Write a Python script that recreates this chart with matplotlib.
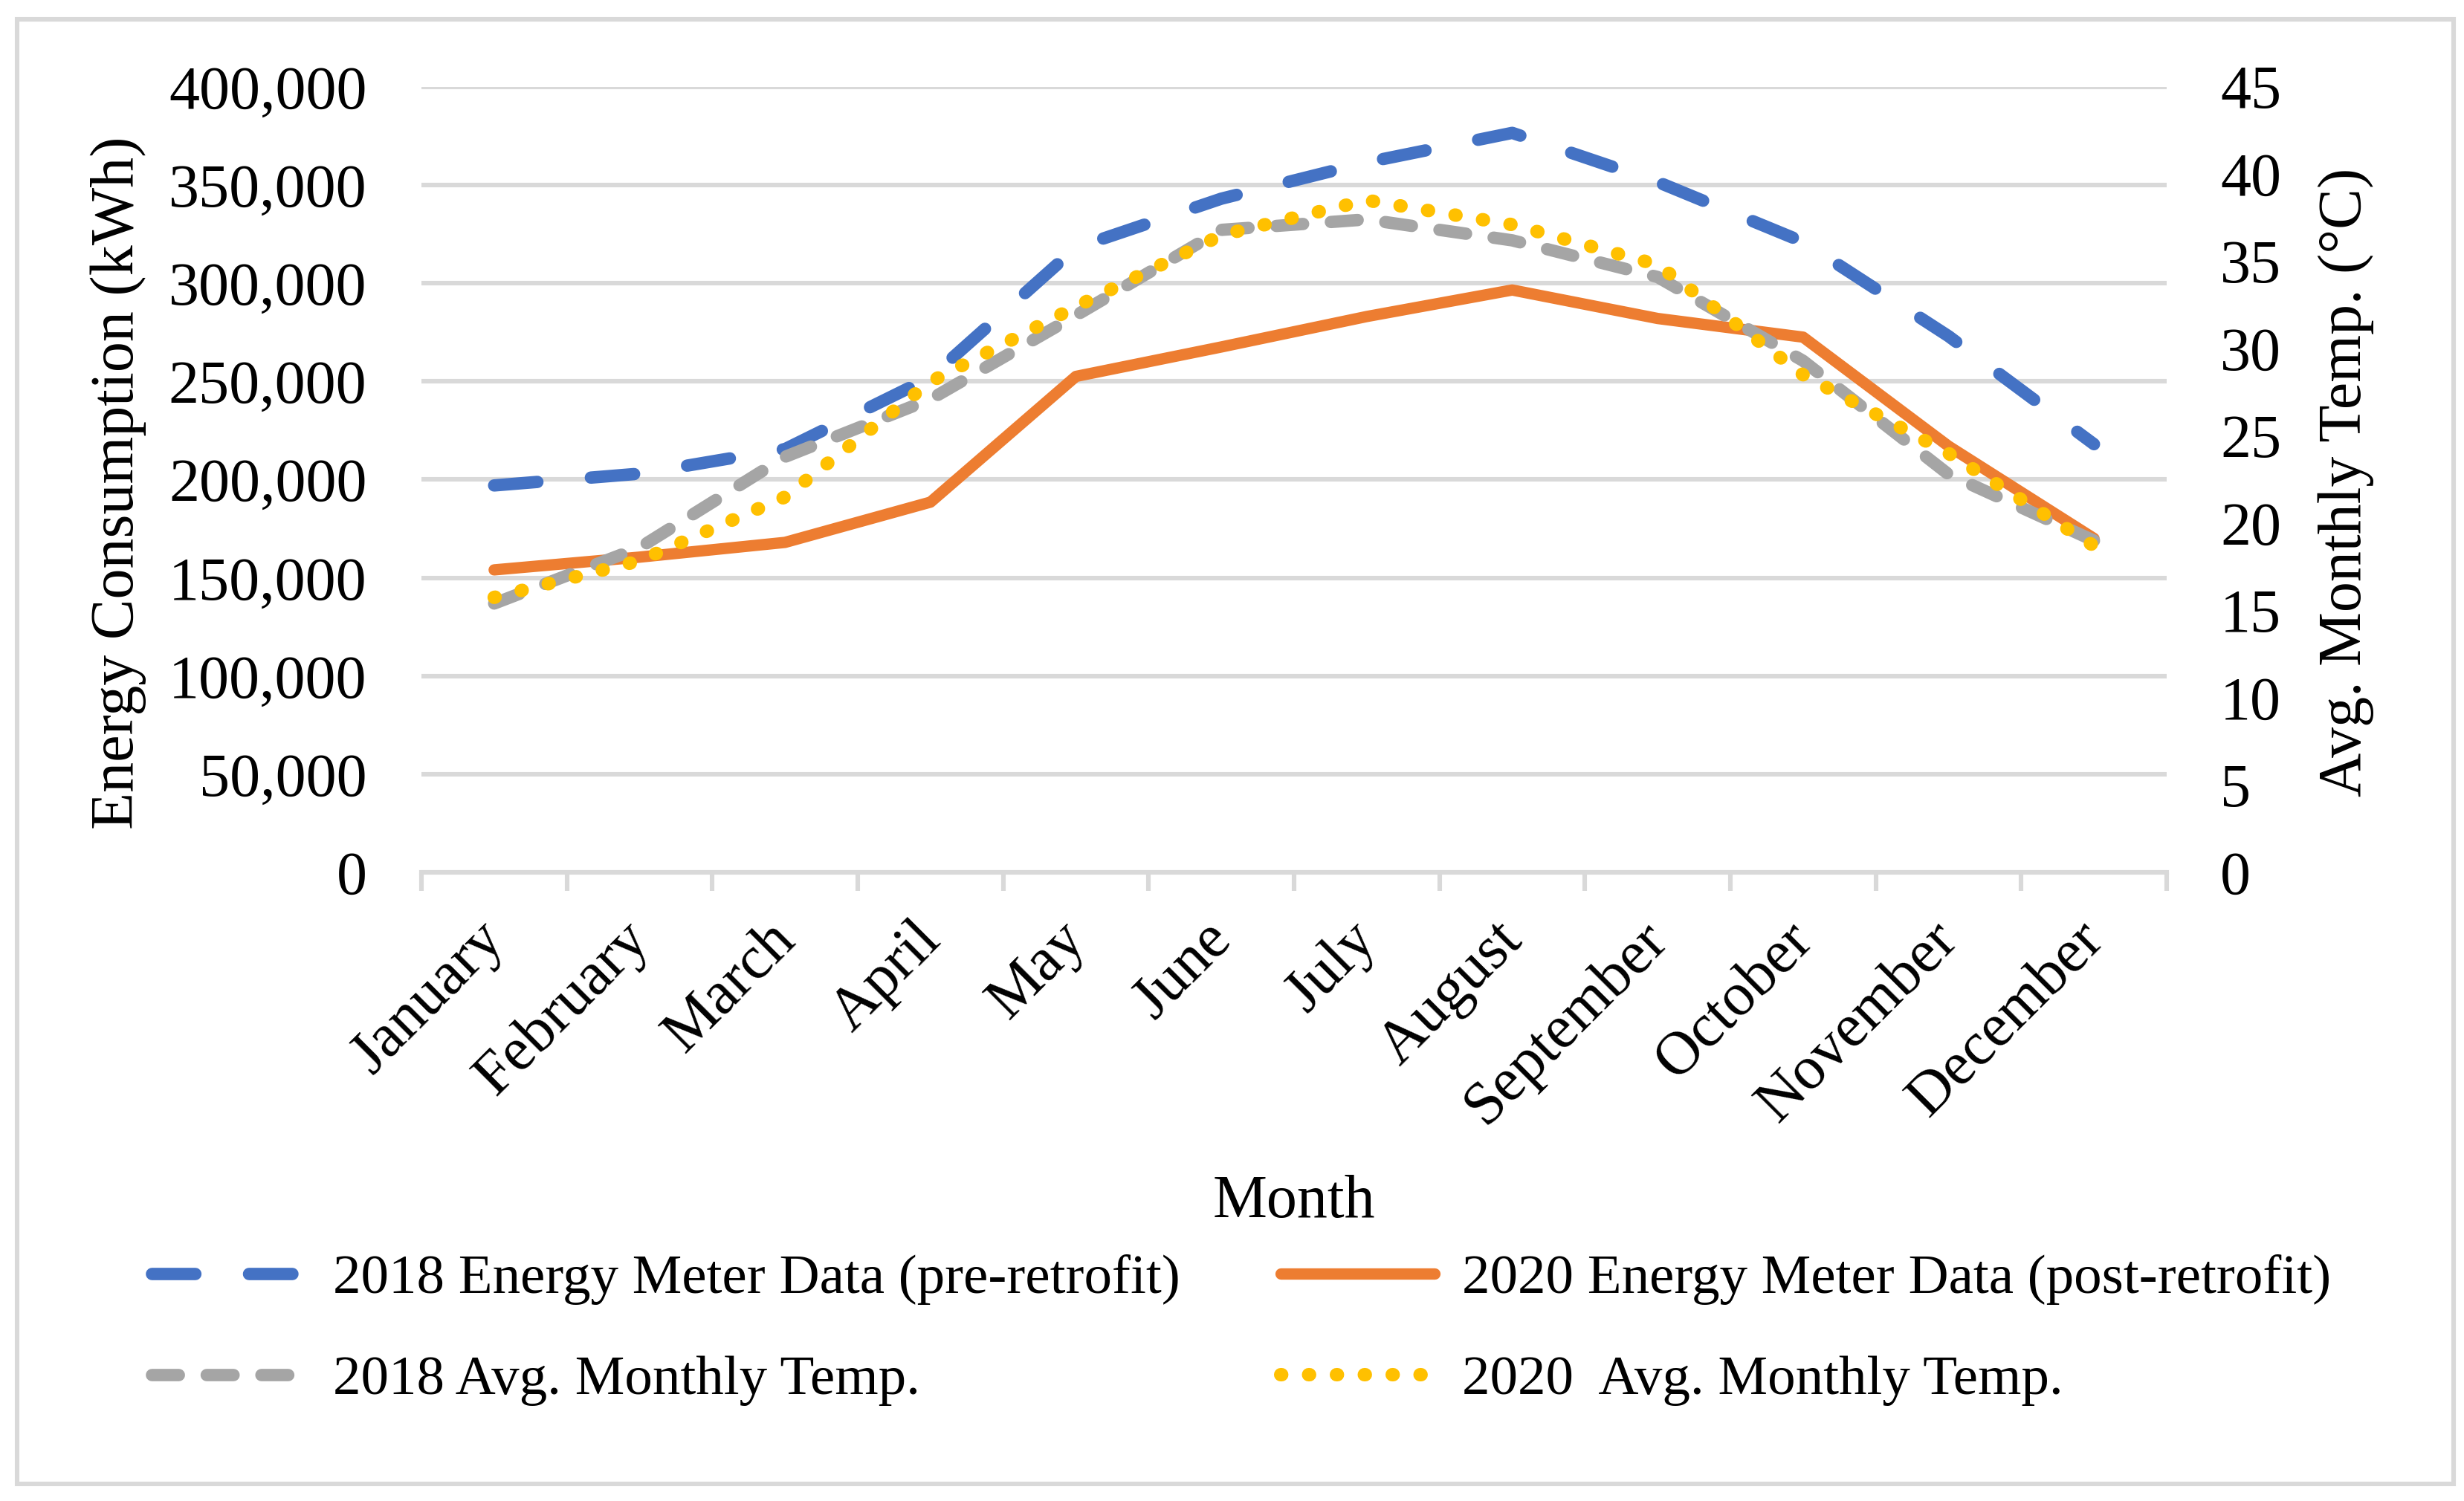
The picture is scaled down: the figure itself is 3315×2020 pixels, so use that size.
import matplotlib
matplotlib.use("Agg")
import matplotlib.pyplot as plt
import matplotlib.transforms as mtransforms
import numpy as np
from matplotlib.patches import Rectangle
from matplotlib.ticker import FuncFormatter, MultipleLocator

plt.rcParams['font.family'] = ['Liberation Serif', 'DejaVu Serif']
plt.rcParams['lines.scale_dashes'] = False

months = ["January", "February", "March", "April", "May", "June", "July",
          "August", "September", "October", "November", "December"]
energy_2018 = [197000, 203000, 215500, 252000, 318000, 343000, 361500,
               376500, 351500, 321000, 273000, 218000]
energy_2020 = [154000, 160500, 168000, 188500, 252500, 267500, 283000,
               296500, 282000, 272500, 217000, 170000]
temp_2018 = [15.4, 18.6, 23.8, 27.1, 31.9, 36.8, 37.4, 36.2, 34.1, 29.3, 22.8, 19.0]
temp_2020 = [15.75, 17.85, 21.5, 28.1, 32.4, 36.5, 38.5, 37.1, 34.8, 28.5, 24.0, 18.7]

labels = ["2018 Energy Meter Data (pre-retrofit)",
          "2020 Energy Meter Data (post-retrofit)",
          "2018 Avg. Monthly Temp.",
          "2020  Avg. Monthly Temp."]

W, H = 3316, 2020
fig = plt.figure(figsize=(W / 200, H / 200), dpi=200)
grid_c = '#D9D9D9'

left, right, top, bottom = 567, 2915, 116.7, 1174
ax = fig.add_axes([left / W, (H - bottom) / H, (right - left) / W, (bottom - top) / H])

x = np.arange(len(months))
l1, = ax.plot(x, energy_2018, color='#4472C4', lw=6, dashes=(21, 26),
              dash_capstyle='round', solid_capstyle='round', solid_joinstyle='round')
l2, = ax.plot(x, energy_2020, color='#ED7D31', lw=5.5, solid_capstyle='round',
              solid_joinstyle='round')
ax.set_ylim(0, 400000)
ax.set_xlim(-0.5, 11.5)
ax.yaxis.set_major_locator(MultipleLocator(50000))
ax.yaxis.set_major_formatter(FuncFormatter(lambda v, p: f"{v:,.0f}"))
ax.yaxis.grid(True, color=grid_c, lw=2.2)
ax.set_axisbelow(True)
for s in ['top', 'left', 'right']:
    ax.spines[s].set_visible(False)
ax.spines['bottom'].set_color(grid_c)
ax.spines['bottom'].set_linewidth(2.2)
ax.tick_params(axis='y', length=0, pad=26.5, labelsize=29.5)
ax.set_xticks(x)
ax.set_xticklabels(months)
ax.set_xticks(np.arange(-0.5, 12, 1), minor=True)
ax.tick_params(axis='x', which='major', length=0, pad=19, labelsize=29.5)
ax.tick_params(axis='x', which='minor', length=9, width=2.2, color=grid_c)
offset = mtransforms.ScaledTranslation(-9 / 72, 0, fig.dpi_scale_trans)
for lab in ax.get_xticklabels():
    lab.set_rotation(45)
    lab.set_ha('right')
    lab.set_va('top')
    lab.set_rotation_mode('anchor')
    lab.set_transform(lab.get_transform() + offset)

ax2 = ax.twinx()
l3, = ax2.plot(x, temp_2018, color='#A5A5A5', lw=6, dashes=(13, 13.5),
               dash_capstyle='round', solid_joinstyle='round')
l4, = ax2.plot(x, temp_2020, color='#FFC000', lw=6.5, dashes=(0.5, 13),
               dash_capstyle='round', solid_joinstyle='round')
ax2.set_ylim(0, 45)
ax2.yaxis.set_major_locator(MultipleLocator(5))
for s in ['top', 'left', 'right', 'bottom']:
    ax2.spines[s].set_visible(False)
ax2.tick_params(axis='y', length=0, pad=26, labelsize=29.5)

fig.text(159 / W, 1 - 650 / H, "Energy Consumption (kWh)", rotation=90,
         ha='center', va='center', fontsize=29.5)
fig.text(3156 / W, 1 - 649 / H, "Avg. Monthly Temp. (°C)", rotation=90,
         ha='center', va='center', fontsize=29.5)
fig.text(1741 / W, 1 - 1618 / H, "Month", ha='center', va='center', fontsize=29.5)

fig.legend([l1, l3, l2, l4], [labels[0], labels[2], labels[1], labels[3]],
           ncol=2, loc='center', bbox_to_anchor=(1670 / W, 1 - 1790 / H),
           frameon=False, fontsize=27, handlelength=2.76, handletextpad=0.49,
           columnspacing=1.8, labelspacing=0.9, borderpad=0, borderaxespad=0)

fig.patches.append(Rectangle((23 / W, 23 / H), (3301 - 23) / W, (1997 - 26) / H,
                             transform=fig.transFigure, fill=False,
                             edgecolor=grid_c, lw=2.2))

fig.savefig("out.png", dpi=200, facecolor='white')
